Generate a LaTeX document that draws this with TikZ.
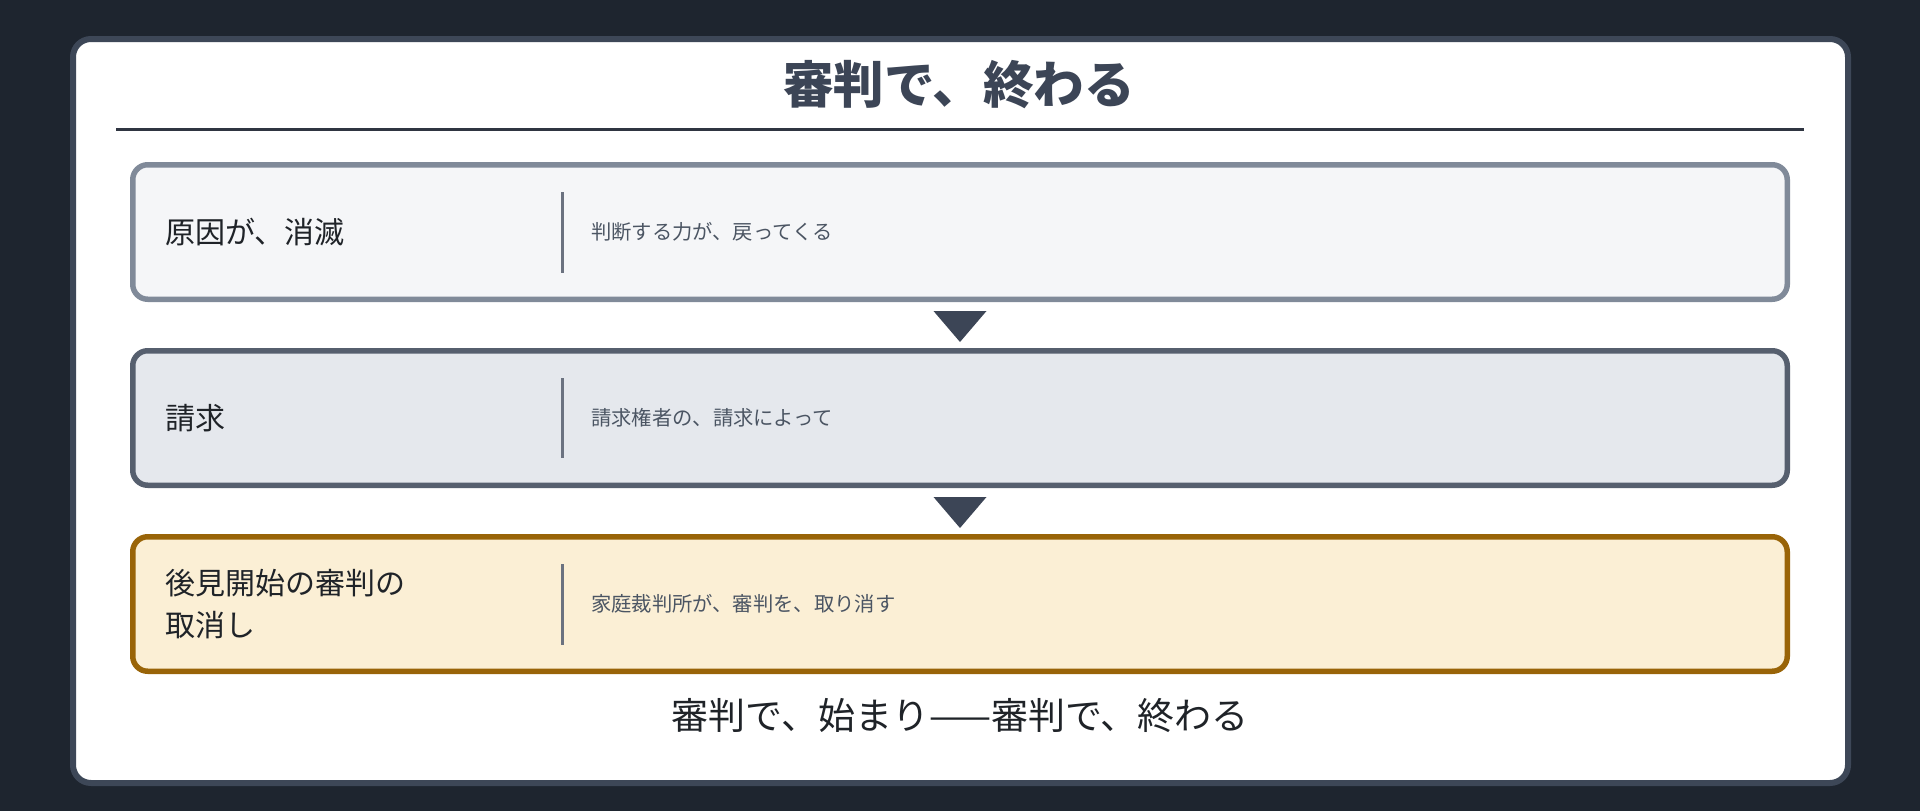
\documentclass[tikz,border=0pt]{standalone}
\usepackage{fontspec}
\setmainfont{Noto Sans CJK JP}
\usetikzlibrary{calc}
\definecolor{bgc}{HTML}{1E252F}
\definecolor{cardborder}{HTML}{3D4757}
\definecolor{titleline}{HTML}{2F3541}
\definecolor{bonedraw}{HTML}{808A99}
\definecolor{bonefill}{HTML}{F5F6F8}
\definecolor{btwodraw}{HTML}{565F6E}
\definecolor{btwofill}{HTML}{E5E8ED}
\definecolor{bthreedraw}{HTML}{996408}
\definecolor{bthreefill}{HTML}{FBEFD5}
\definecolor{divc}{HTML}{6B7280}
\definecolor{tric}{HTML}{3C4556}
\definecolor{titlec}{HTML}{3C4556}
\definecolor{labelc}{HTML}{1F2328}
\definecolor{descc}{HTML}{4B5563}
\tikzset{
  stagebox/.style={line width=5.5pt, rounded corners=15pt, minimum width=1654.5pt, minimum height=134.5pt, inner sep=0pt},
  labeltext/.style={anchor=west, inner sep=0pt, text=labelc, font=\fontsize{30}{42}\selectfont, align=left},
  desctext/.style={anchor=west, inner sep=0pt, text=descc, font=\fontsize{20.3}{24}\selectfont},
  divider/.style={line width=3pt, draw=divc},
  tri/.style={fill=tric},
}
\begin{document}
\begin{tikzpicture}[x=1pt,y=-1pt]
\useasboundingbox[fill=bgc] (0,0) rectangle (1920,811);
\draw[line width=6pt, draw=cardborder, fill=white, rounded corners=18pt] (73,39) rectangle (1848,783);
\node[inner sep=0pt, text=titlec, font=\fontsize{50.5}{60}\selectfont\bfseries] (title) at (959,85) {審判で、終わる};
\draw[line width=3pt, draw=titleline] (116,129) -- (1804,129);

\node[stagebox, draw=bonedraw, fill=bonefill] (b1) at (960,232) {};
\node[stagebox, draw=btwodraw, fill=btwofill] (b2) at (960,418) {};
\node[stagebox, draw=bthreedraw, fill=bthreefill] (b3) at (960,604) {};

\node[labeltext] (l1) at (165,232) {原因が、消滅};
\node[labeltext] (l2) at (165,418) {請求};
\node[labeltext] (l3) at (165,604) {後見開始の審判の\\取消し};

\draw[divider] (562,192) -- (562,273);
\draw[divider] (562,378) -- (562,458);
\draw[divider] (562,564) -- (562,645);

\node[desctext] (d1) at (591,232) {判断する力が、戻ってくる};
\node[desctext] (d2) at (591,418) {請求権者の、請求によって};
\node[desctext] (d3) at (591,604) {家庭裁判所が、審判を、取り消す};

\fill[tri] ($(b1.south)+(-26.5,9)$) -- ($(b1.south)+(26.5,9)$) -- ($(b1.south)+(0,40)$) -- cycle;
\fill[tri] ($(b2.south)+(-26.5,9)$) -- ($(b2.south)+(26.5,9)$) -- ($(b2.south)+(0,40)$) -- cycle;

\node[inner sep=0pt, text=labelc, font=\fontsize{37}{44}\selectfont] (foot) at (960,716) {審判で、始まり——審判で、終わる};
\end{tikzpicture}
\end{document}
